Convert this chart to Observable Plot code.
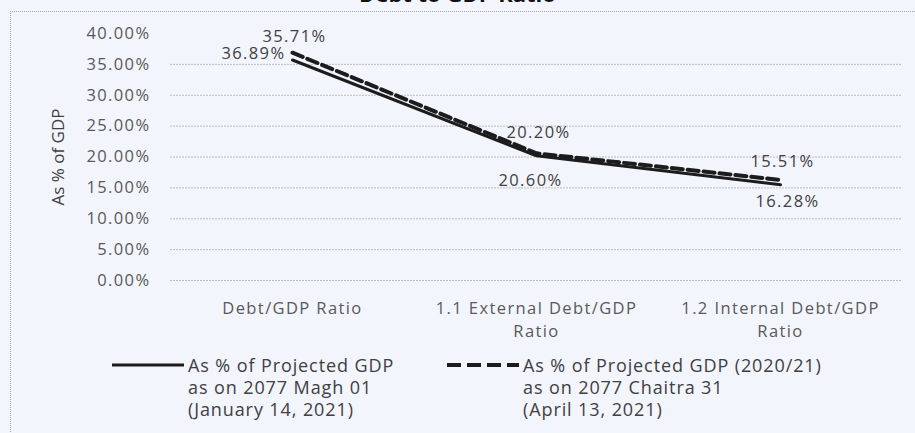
<!DOCTYPE html>
<html><head><meta charset="utf-8">
<script src="https://cdn.jsdelivr.net/npm/d3@7"></script>
<script src="https://cdn.jsdelivr.net/npm/@observablehq/plot@0.6"></script>
<style>
body{margin:0;background:#f3f5fc;}
#wrap{position:relative;width:915px;height:433px;overflow:hidden;background:#f3f5fc;font-family:"Open Sans",sans-serif;}
#frame{position:absolute;left:10px;top:11px;width:910px;height:430px;border-left:1px dotted #a8a8a8;border-top:1px dotted #a8a8a8;}
#title{position:absolute;left:0;top:-22px;width:915px;text-align:center;font-weight:bold;font-size:22px;color:#111;}
#chart{position:absolute;left:0;top:0;}
.leg{position:absolute;top:354px;font-size:18px;letter-spacing:0.9px;line-height:22px;color:#404040;white-space:nowrap;}
.leg svg{position:absolute;top:0;}
</style></head><body>
<div id="wrap">
 <div id="frame"></div>
 <div id="title">Debt to GDP Ratio</div>
 <div id="chart"></div>
</div>
<script>
const categories = ["Debt/GDP Ratio", "1.1 External Debt/GDP\nRatio", "1.2 Internal Debt/GDP\nRatio"];
const seriesMagh = [35.71, 20.20, 15.51];
const seriesChaitra = [36.89, 20.60, 16.28];
const legendMagh = ["As % of Projected GDP", "as on 2077 Magh 01", "(January 14, 2021)"];
const legendChaitra = ["As % of Projected GDP (2020/21)", "as on 2077 Chaitra 31", "(April 13, 2021)"];
const yTicks = [0, 5, 10, 15, 20, 25, 30, 35, 40];
const yTitle = "As % of GDP";

const magh = categories.map((c, i) => ({cat: c, v: seriesMagh[i], i}));
const chaitra = categories.map((c, i) => ({cat: c, v: seriesChaitra[i], i}));
const fmt = v => v.toFixed(2) + "%";

const chart = Plot.plot({
  width: 915, height: 352,
  marginTop: 33, marginBottom: 72, marginLeft: 170, marginRight: 13,
  style: {fontSize: "16px", fontFamily: "Open Sans, sans-serif", letterSpacing: "1.4px", color: "#595959", background: "transparent"},
  x: {type: "point", domain: categories, padding: 0.5, label: null},
  y: {domain: [0, 40], label: null},
  marks: [
    Plot.gridY(yTicks.slice(0, -1), {stroke: "#bdbdbd", strokeOpacity: 1, strokeDasharray: "2,1"}),
    Plot.axisY(yTicks, {tickSize: 0, tickPadding: 20, tickFormat: fmt, fill: "#595959", fontSize: 16.5, label: null}),
    Plot.axisX({tickSize: 0, tickPadding: 16, lineHeight: 1.45, fill: "#595959", fontSize: 16.5, label: null}),
    Plot.text([yTitle], {frameAnchor: "left", dx: -112, rotate: -90, textAnchor: "middle", lineAnchor: "middle", fontSize: 17, fill: "#404040"}),
    Plot.lineY(magh, {x: "cat", y: "v", stroke: "#1c1c1c", strokeWidth: 3}),
    Plot.lineY(chaitra, {x: "cat", y: "v", stroke: "#1c1c1c", strokeWidth: 4, strokeDasharray: "11,5"}),
    Plot.text(magh, {x: "cat", y: "v", text: d => fmt(d.v), dy: -23, dx: 2, fill: "#404040", fontSize: 16.5}),
    Plot.text(chaitra.filter(d => d.i === 0), {x: "cat", y: "v", text: d => fmt(d.v), dx: -7, dy: 1, textAnchor: "end", fill: "#404040", fontSize: 16.5}),
    Plot.text(chaitra.filter(d => d.i === 1), {x: "cat", y: "v", text: d => fmt(d.v), dx: -6, dy: 27, fill: "#404040", fontSize: 16.5}),
    Plot.text(chaitra.filter(d => d.i === 2), {x: "cat", y: "v", text: d => fmt(d.v), dx: 7, dy: 22, fill: "#404040", fontSize: 16.5})
  ]
});
d3.select(chart).selectAll("text").filter(function() { return this.textContent === yTitle; }).style("letter-spacing", "0px");
document.getElementById("chart").appendChild(chart);

function legendItem(left, lines, dashed) {
  const d = document.createElement("div");
  d.className = "leg";
  d.style.left = left + "px";
  d.innerHTML = lines.join("<br>");
  const ns = "http://www.w3.org/2000/svg";
  const s = document.createElementNS(ns, "svg");
  s.setAttribute("width", 76); s.setAttribute("height", 22);
  s.style.left = "-76px";
  const l = document.createElementNS(ns, "line");
  l.setAttribute("x1", 0); l.setAttribute("x2", 72); l.setAttribute("y1", 11); l.setAttribute("y2", 11);
  l.setAttribute("stroke", "#1c1c1c"); l.setAttribute("stroke-width", dashed ? 4 : 3);
  if (dashed) l.setAttribute("stroke-dasharray", "14,6");
  s.appendChild(l);
  d.appendChild(s);
  document.getElementById("wrap").appendChild(d);
}
legendItem(188, legendMagh, false);
legendItem(523, legendChaitra, true);
</script>
</body></html>
